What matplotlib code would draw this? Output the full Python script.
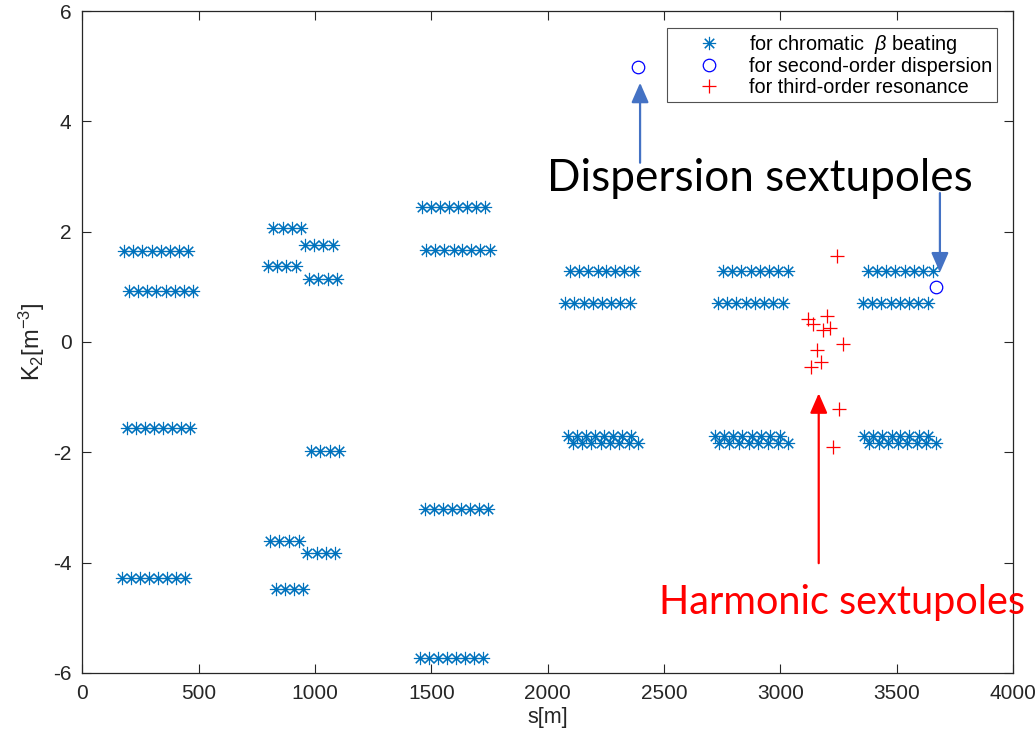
import numpy as np
import matplotlib
matplotlib.use("Agg")
import matplotlib.pyplot as plt

plt.rcParams['font.family'] = ['Liberation Sans', 'DejaVu Sans']
plt.rcParams['mathtext.fontset'] = 'custom'
plt.rcParams['mathtext.rm'] = 'Liberation Sans'
plt.rcParams['mathtext.it'] = 'Liberation Sans:italic'
plt.rcParams['axes.unicode_minus'] = False

# chromatic sextupoles, one list of s positions per row, K2 per row
grpA_k = [1.65, 0.92, -1.56, -4.27]
grpA_s = [[178, 218, 257, 297, 336, 376, 415, 453],
          [201, 240, 279, 318, 357, 396, 435, 473],
          [193, 232, 270, 309, 347, 386, 424, 462],
          [171, 210, 248, 287, 326, 364, 403, 442]]
grpB_k = [2.06, 1.37, -3.60, -4.48]
grpB_s = [[820, 860, 900, 940],
          [797, 837, 877, 917],
          [805, 846, 888, 929],
          [831, 870, 910, 949]]
grpC_k = [1.76, 1.14, -1.97, -3.83]
grpC_s = [[956, 996, 1036, 1076],
          [974, 1014, 1054, 1095],
          [984, 1023, 1063, 1103],
          [966, 1006, 1046, 1086]]
grpD_k = [2.44, 1.66, -3.02, -5.72]
grpD_s = [[1458, 1497, 1536, 1575, 1615, 1654, 1693, 1732],
          [1478, 1517, 1556, 1595, 1633, 1672, 1711, 1750],
          [1471, 1510, 1549, 1588, 1626, 1665, 1704, 1743],
          [1450, 1489, 1528, 1567, 1605, 1644, 1683, 1722]]
grpE_k = [1.29, 0.70, -1.71, -1.83]
grpE_s = [[2097, 2136, 2175, 2214, 2252, 2291, 2330, 2369],
          [2075, 2114, 2154, 2193, 2233, 2273, 2312, 2352],
          [2087, 2126, 2165, 2204, 2242, 2281, 2320, 2359],
          [2108, 2148, 2188, 2228, 2268, 2308, 2348, 2388]]
grpF_k = [1.28, 0.70, -1.71, -1.83]
grpF_s = [[2753, 2793, 2833, 2873, 2912, 2952, 2992, 3032],
          [2731, 2771, 2811, 2851, 2890, 2930, 2970, 3010],
          [2717, 2757, 2797, 2837, 2877, 2917, 2957, 2997],
          [2738, 2780, 2822, 2864, 2905, 2947, 2989, 3031]]
grpG_k = [1.28, 0.70, -1.71, -1.83]
grpG_s = [[3375, 3415, 3455, 3495, 3535, 3575, 3615, 3655],
          [3354, 3394, 3434, 3474, 3513, 3553, 3593, 3633],
          [3361, 3400, 3439, 3478, 3516, 3555, 3594, 3633],
          [3383, 3424, 3464, 3505, 3546, 3587, 3628, 3669]]

# dispersion sextupoles
disp_s = [2386, 3669]
disp_k = [4.99, 0.99]

# harmonic sextupoles
res_s = [3242, 3118, 3139, 3201, 3215, 3184, 3268, 3159, 3174, 3132, 3254, 3228]
res_k = [1.56, 0.42, 0.32, 0.47, 0.26, 0.21, -0.04, -0.15, -0.36, -0.45, -1.21, -1.91]

xticks = [0, 500, 1000, 1500, 2000, 2500, 3000, 3500, 4000]
yticks = [-6, -4, -2, 0, 2, 4, 6]

# annotation arrows: (x, y_tail, y_tip)
arrow_disp1 = (2397, 3.25, 4.70)
arrow_disp2 = (3686, 2.70, 1.26)
arrow_harm = (3165, -4.01, -0.93)

chrom_s = []
chrom_k = []
for ks, ss in [(grpA_k, grpA_s), (grpB_k, grpB_s), (grpC_k, grpC_s), (grpD_k, grpD_s),
               (grpE_k, grpE_s), (grpF_k, grpF_s), (grpG_k, grpG_s)]:
    for k, row in zip(ks, ss):
        chrom_s += row
        chrom_k += [k] * len(row)

fig = plt.figure(figsize=(10.35, 7.35), dpi=100)
ax = fig.add_axes([0.0797, 0.0844, 0.899, 0.9006])

ax.plot(chrom_s, chrom_k, linestyle='none', marker=(8, 2, 0), markersize=9.5,
        markeredgewidth=0.8, color='#0072BD', label=r'for chromatic  $\beta$ beating')
ax.plot(disp_s, disp_k, linestyle='none', marker='o', markersize=9, markerfacecolor='none',
        markeredgewidth=0.9, color='blue', label='for second-order dispersion')
ax.plot(res_s, res_k, linestyle='none', marker='+', markersize=9.5,
        markeredgewidth=0.9, color='red', label='for third-order resonance')

ax.set_xlim(0, 4000)
ax.set_ylim(-6, 6)
ax.set_xticks(xticks)
ax.set_yticks(yticks)
ax.tick_params(direction='in', length=6.5, width=0.8, top=True, right=True,
               labelsize=15, colors='#262626', pad=8)
for sp in ax.spines.values():
    sp.set_color('#262626')
    sp.set_linewidth(0.9)
ax.set_xlabel('s[m]', fontsize=15.5, color='#262626', labelpad=3)
ax.set_ylabel(r'K$_2$[m$^{-3}$]', fontsize=17, color='#262626', labelpad=4)

leg = ax.legend(loc='upper right', bbox_to_anchor=(0.983, 0.975), fontsize=14.3,
                frameon=True, fancybox=False, edgecolor='#262626', labelspacing=0.08,
                handlelength=3.7, handletextpad=0.15, borderpad=0.25, borderaxespad=0)
leg.get_frame().set_linewidth(0.8)

for (x, y0, y1), col in [(arrow_disp1, '#4472C4'), (arrow_disp2, '#4472C4'), (arrow_harm, 'red')]:
    ax.annotate('', xy=(x, y1), xytext=(x, y0),
                arrowprops=dict(arrowstyle='-|>,head_length=0.8,head_width=0.35',
                                color=col, lw=1.6, mutation_scale=15,
                                shrinkA=0, shrinkB=0))

ax.text(2912, 2.97, 'Dispersion sextupoles', fontsize=31.8, family=['Lato', 'DejaVu Sans'],
        color='black', ha='center', va='center')
ax.text(3263, -4.73, 'Harmonic sextupoles', fontsize=28.5, family=['Lato', 'DejaVu Sans'],
        color='red', ha='center', va='center', clip_on=False)

fig.savefig('out.png', dpi=100)
